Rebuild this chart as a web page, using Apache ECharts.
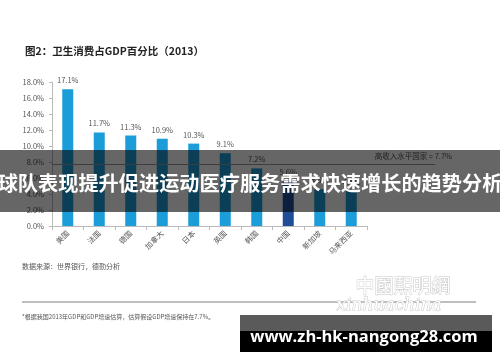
<!DOCTYPE html>
<html><head><meta charset="utf-8">
<script src="https://cdn.jsdelivr.net/npm/echarts@6/dist/echarts.min.js"></script>
<style>html,body{margin:0;padding:0;background:#fff}#c{width:500px;height:362px}</style>
</head><body><div id="c"></div>
<script>
const categories = ['美国','法国','德国','加拿大','日本','英国','韩国','中国','新加坡','马来西亚'];
const values = [17.1, 11.7, 11.3, 10.9, 10.3, 9.1, 7.2, 5.6, 4.6, 4.4];
const highlightIndex = 7;
const refValue = 7.7;
const refLabel = '高收入水平国家 = 7.7%';
const yTicks = { min: 0, max: 18, interval: 2 };
const titleText = '图2：卫生消费占GDP百分比（2013）';
const sourceText = '数据来源：世界银行，德勤分析';
const noteText = '*根据我国2013年GDP和GDP增速估算，估算假设GDP增速保持在7.7%。';
const bannerText = '球队表现提升促进运动医疗服务需求快速增长的趋势分析';
const urlText = 'www.zh-hk-nangong28.com';

const FONT = '"Noto Sans CJK SC", "Noto Sans", sans-serif';
const chart = echarts.init(document.getElementById('c'));
chart.setOption({
  backgroundColor: '#fff',
  animation: false,
  title: { text: titleText, left: 20, top: 41, textStyle: { fontFamily: FONT, fontSize: 10.5, fontWeight: 'bold', color: '#222' } },
  grid: [
    { left: 52, right: 133, top: 82, bottom: 136 },
    { left: 52, right: 65, top: 82, bottom: 136 }
  ],
  xAxis: [
    { type: 'category', data: categories, gridIndex: 0,
      axisLine: { lineStyle: { color: '#bbb' } },
      axisTick: { show: true, length: 4, lineStyle: { color: '#bbb' } },
      axisLabel: { rotate: 45, fontSize: 7.5, color: '#555', fontFamily: FONT, margin: 6 } },
    { type: 'value', gridIndex: 1, min: 0, max: 1, show: false }
  ],
  yAxis: [
    { type: 'value', gridIndex: 0, min: yTicks.min, max: yTicks.max, interval: yTicks.interval,
      axisLine: { show: true, lineStyle: { color: '#bbb' } },
      axisTick: { show: true, length: 3, lineStyle: { color: '#bbb' } },
      splitLine: { show: false },
      axisLabel: { formatter: v => v.toFixed(1) + '%', fontSize: 7.5, color: '#555', fontFamily: FONT, margin: 8 } },
    { type: 'value', gridIndex: 1, min: yTicks.min, max: yTicks.max, show: false }
  ],
  series: [
    { type: 'bar', xAxisIndex: 0, yAxisIndex: 0, barWidth: 11,
      data: values.map((v, i) => ({ value: v, itemStyle: { color: i === highlightIndex ? '#1f4e96' : '#1b9dd9' } })),
      label: { show: true, position: 'top', distance: 5, formatter: p => p.value.toFixed(1) + '%', fontSize: 7.5, color: '#555', fontFamily: FONT } },
    { type: 'line', xAxisIndex: 1, yAxisIndex: 1, data: [], silent: true,
      markLine: { symbol: 'none', silent: true,
        lineStyle: { color: '#999', width: 1, type: 'solid' },
        label: { show: true, position: 'insideEndTop', formatter: refLabel, fontSize: 7.5, color: '#555', fontFamily: FONT, offset: [22, 1] },
        data: [{ yAxis: refValue }] } }
  ],
  graphic: [
    { type: 'text', left: 22, top: 263, z: 50, style: { text: sourceText, fontSize: 7, fill: '#555', fontFamily: FONT } },
    { type: 'line', z: 50, shape: { x1: 22, y1: 302, x2: 476, y2: 302 }, style: { stroke: '#a8a8a8', lineWidth: 1.5 } },
    { type: 'text', left: 22, top: 314, z: 50, style: { text: noteText, fontSize: 6, fill: '#555', fontFamily: FONT } },
    { type: 'text', left: 355, top: 276, z: 50, style: { text: '中國熙明網', fontSize: 19, fill: '#fff', stroke: '#c8c8c8', lineWidth: 1, fontFamily: FONT, letterSpacing: 4 } },
    { type: 'text', left: 336, top: 297, z: 50, style: { text: 'xinhuachina', fontSize: 17, fontStyle: 'italic', fill: '#fff', stroke: '#c8c8c8', lineWidth: 1, fontFamily: 'DejaVu Serif', letterSpacing: 2 } },
    { type: 'rect', z: 100, shape: { x: 0, y: 150, width: 500, height: 62 }, style: { fill: 'rgba(0,0,0,0.6)' } },
    { type: 'text', z: 101, x: 250, y: 183, style: { text: bannerText, fontSize: 20.2, fontWeight: 'bold', fill: '#fff', fontFamily: FONT, align: 'center', verticalAlign: 'middle' } },
    { type: 'rect', z: 100, shape: { x: 240, y: 315, width: 252, height: 16 }, style: { fill: '#5a5a5a' } },
    { type: 'rect', z: 100, shape: { x: 240, y: 331, width: 252, height: 21 }, style: { fill: '#000' } },
    { type: 'text', z: 101, x: 364, y: 337, style: { text: urlText, fontSize: 16.5, fontWeight: 'bold', fill: '#fff', fontFamily: '"Open Sans", sans-serif', align: 'center', verticalAlign: 'middle' } }
  ]
});
</script></body></html>
